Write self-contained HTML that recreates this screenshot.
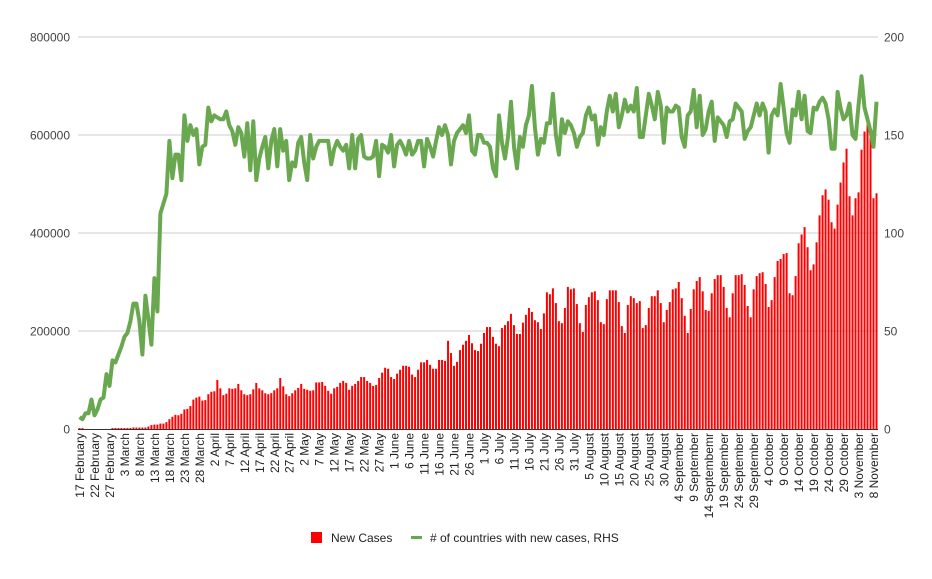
<!DOCTYPE html>
<html><head><meta charset="utf-8"><style>
body{margin:0;background:#fff;width:932px;height:574px;overflow:hidden;font-family:"Liberation Sans",Arial,sans-serif}
svg text{font-family:"Liberation Sans",Arial,sans-serif}
</style></head><body>
<svg id="chart" width="932" height="574" xmlns="http://www.w3.org/2000/svg">
<g id="grid"></g>
<g id="bars"></g>
<g id="line"></g>
<g id="axes"></g>
<g>
<rect x="311" y="532" width="11" height="11" fill="#ff0000"/>
<text x="331" y="542" font-size="12" fill="#222">New Cases</text>
<line x1="411" y1="537.5" x2="422" y2="537.5" stroke="#6aa84f" stroke-width="3"/>
<text x="430" y="542" font-size="12" fill="#222"># of countries with new cases, RHS</text>
</g>
</svg>
<script>
const newCases=[2,2,0,0,0,0,0,0,0,0,0,2,2,2,2,2,2,2,3,3,3,3,3,5,8,9,9,11,11,14,20,25,29,28,31,40,41,47,60,64,66,58,59,71,76,77,100,83,69,72,83,82,83,92,79,71,69,71,81,94,83,79,73,71,73,79,83,104,87,71,67,73,79,84,92,82,80,78,79,95,95,96,88,78,72,83,86,94,98,94,80,88,92,98,106,106,98,94,88,90,104,115,125,123,106,102,113,121,129,129,127,111,106,121,136,136,141,131,123,123,141,141,139,180,155,129,137,161,172,180,192,175,161,159,174,196,208,208,188,174,169,206,212,220,235,212,194,194,217,233,247,239,222,218,204,236,279,275,287,257,220,216,247,290,285,287,255,216,198,253,269,279,281,263,218,214,265,283,283,283,259,210,196,253,271,267,257,261,206,212,247,271,271,283,257,218,243,259,285,287,300,267,231,196,245,285,302,310,281,243,241,277,306,314,314,290,247,228,277,314,314,316,294,251,228,285,312,318,320,296,249,263,310,343,347,357,359,277,273,312,379,397,412,371,324,336,381,436,477,489,468,422,409,458,503,544,572,475,436,471,483,570,607,621,599,471,481];
const countries=[6,5,8,8,15,7,10,15,16,28,22,35,34,38,42,47,49,55,64,64,55,38,68,56,43,77,60,110,115,120,147,128,140,140,127,160,147,155,150,153,135,144,145,164,157,160,159,158,158,162,155,152,145,154,151,139,156,132,157,127,138,144,149,133,147,153,134,153,142,147,127,136,134,146,149,136,127,150,138,144,147,147,147,147,135,143,147,144,142,145,133,150,133,148,150,139,138,138,139,147,129,145,144,141,150,134,145,147,144,140,147,140,142,147,147,134,148,144,139,147,154,150,155,150,135,147,151,153,155,151,160,142,140,150,150,146,146,144,133,129,160,146,138,149,167,144,133,149,144,155,160,175,154,140,148,146,156,156,171,150,140,158,151,157,155,151,144,149,151,160,164,158,160,145,154,150,162,170,162,171,154,160,168,162,165,162,174,149,149,160,171,165,158,172,165,146,164,162,162,165,164,149,144,160,162,173,154,170,150,153,162,167,147,159,157,155,149,157,158,166,164,162,148,152,154,160,166,160,166,162,141,160,163,160,176,164,151,146,163,160,172,158,170,152,151,164,163,167,169,166,158,143,143,172,164,158,160,166,150,148,165,180,164,158,152,144,167];
const leftTicks=["0","200000","400000","600000","800000"];
const rightTicks=["0","50","100","150","200"];
const dateLabels=["17 February","22 February","27 February","3 March","8 March","13 March","18 March","23 March","28 March","2 April","7 April","12 April","17 April","22 April","27 April","2 May","7 May","12 May","17 May","22 May","27 May","1 June","6 June","11 June","16 June","21 June","26 June","1 July","6 July","11 July","16 July","21 July","26 July","31 July","5 August","10 August","15 August","20 August","25 August","30 August","4 September","9 September","14 Septembemr","19 September","24 September","29 September","4 October","9 October","14 October","19 October","24 October","29 October","3 November","8 November"];

const NS="http://www.w3.org/2000/svg";
const X0=78,X1=878,Y0=429,YT=37;
const band=(X1-X0)/newCases.length;
const xc=i=>X0+band*(i+0.5);
const yL=v=>Y0-v*1000/800000*(Y0-YT);
const yR=v=>Y0-v/200*(Y0-YT);
function mk(tag,attrs,parent){const e=document.createElementNS(NS,tag);for(const k in attrs)e.setAttribute(k,attrs[k]);parent.appendChild(e);return e;}
const grid=document.getElementById('grid'),bars=document.getElementById('bars'),line=document.getElementById('line'),axes=document.getElementById('axes');
leftTicks.forEach((t,k)=>{
  const y=Y0-k*(Y0-YT)/4;
  if(k>0){const g=mk('line',{x1:X0,x2:X1,y1:y,y2:y,stroke:'#cccccc','stroke-width':1},grid);
  
  }
  const a=mk('text',{x:70,y:y+4.5,'text-anchor':'end','font-size':12,fill:'#444'},axes);a.textContent=t;
  
  
  const b=mk('text',{x:884,y:y+4.5,'text-anchor':'start','font-size':12,fill:'#444'},axes);b.textContent=rightTicks[k];
  
  
});
newCases.forEach((v,i)=>{
  const h=Y0-yL(v);
  const r=mk('rect',{x:xc(i)-1,y:yL(v),width:2,height:h,fill:'#ff0000'},bars);
  
  
});
const pts=countries.map((v,i)=>xc(i).toFixed(1)+','+yR(v).toFixed(1)).join(' ');
const pl=mk('polyline',{points:pts,fill:'none',stroke:'#6aa84f','stroke-width':4,'stroke-linejoin':'round'},line);


const base=mk('line',{x1:X0,x2:X1,y1:Y0+0.5,y2:Y0+0.5,stroke:'#333','stroke-width':1},axes);


dateLabels.forEach((t,k)=>{
  const x=xc(k*5)+4.5,y=433;
  const tx=mk('text',{x:x,y:y,'text-anchor':'end','font-size':12,fill:'#222',transform:'rotate(-90 '+x+' '+y+')'},axes);
  tx.textContent=t;
  
  
});
</script>
</body></html>
